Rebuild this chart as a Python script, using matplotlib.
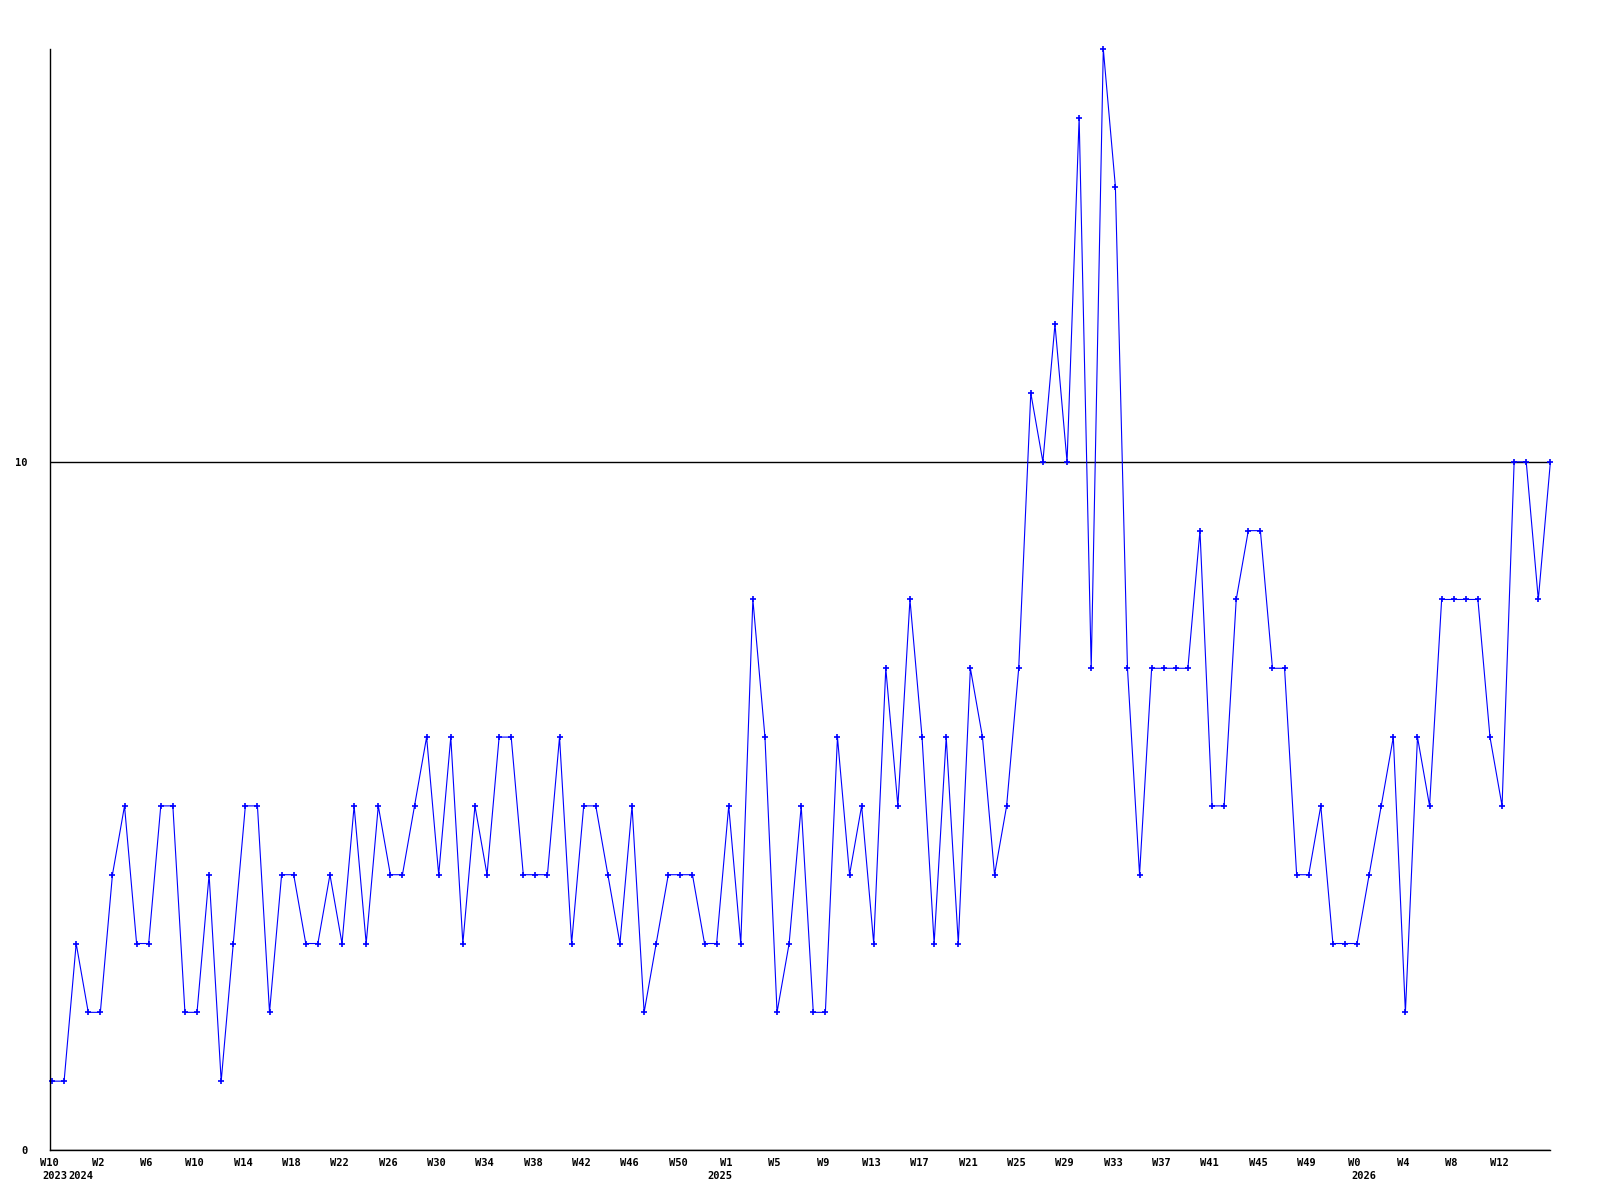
import numpy as np
import matplotlib
matplotlib.use("Agg")
import matplotlib.pyplot as plt
import matplotlib.transforms as mtransforms

# weekly counts
counts = [1, 1, 3, 2, 2, 4, 5, 3, 3, 5,
          5, 2, 2, 4, 1, 3, 5, 5, 2, 4,
          4, 3, 3, 4, 3, 5, 3, 5, 4, 4,
          5, 6, 4, 6, 3, 5, 4, 6, 6, 4,
          4, 4, 6, 3, 5, 5, 4, 3, 5, 2,
          3, 4, 4, 4, 3, 3, 5, 3, 8, 6,
          2, 3, 5, 2, 2, 6, 4, 5, 3, 7,
          5, 8, 6, 3, 6, 3, 7, 6, 4, 5,
          7, 11, 10, 12, 10, 15, 7, 16, 14, 7,
          4, 7, 7, 7, 7, 9, 5, 5, 8, 9,
          9, 7, 7, 4, 4, 5, 3, 3, 3, 4,
          5, 6, 2, 6, 5, 8, 8, 8, 8, 6,
          5, 10, 10, 8, 10]

week_labels = ["W10", "W2", "W6", "W10", "W14", "W18", "W22", "W26", "W30",
               "W34", "W38", "W42", "W46", "W50", "W1", "W5", "W9", "W13",
               "W17", "W21", "W25", "W29", "W33", "W37", "W41", "W45", "W49",
               "W0", "W4", "W8", "W12"]
year_labels = ["2023", "2024", "2025", "2026"]
year_pos = [0.2, 2.4, 55.3, 108.6]

x = np.arange(len(counts))
font = dict(family="DejaVu Sans Mono", weight="bold", size=7.5)

fig = plt.figure(figsize=(16, 12), dpi=100)
ax = fig.add_axes([0.031, 0.0417, 0.938, 0.9175])

ax.plot(x, counts, color="#0000ff", lw=0.8, marker="+", ms=4, mew=1.2, clip_on=False)

ax.set_xlim(0, len(counts) - 1)
ax.set_ylim(0, 16)
ax.set_yticks([0, 10])
ax.set_yticklabels(["0", "10"], fontdict=font)
ax.set_xticks(np.arange(len(week_labels)) * 4 - 0.2)
ax.set_xticklabels(week_labels, fontdict=font)
ax.tick_params(length=0, pad=6)
ax.tick_params(axis="y", pad=16)
ax.grid(axis="y", color="black", lw=1)
ax.set_axisbelow(True)

for s in ["top", "right"]:
    ax.spines[s].set_visible(False)
for s in ["left", "bottom"]:
    ax.spines[s].set_linewidth(1)

trans = mtransforms.blended_transform_factory(ax.transData, ax.transAxes)
for lbl, pos in zip(year_labels, year_pos):
    ax.text(pos, -0.024, lbl, transform=trans, ha="center", va="center", **font)

fig.savefig("out.png", dpi=100)
